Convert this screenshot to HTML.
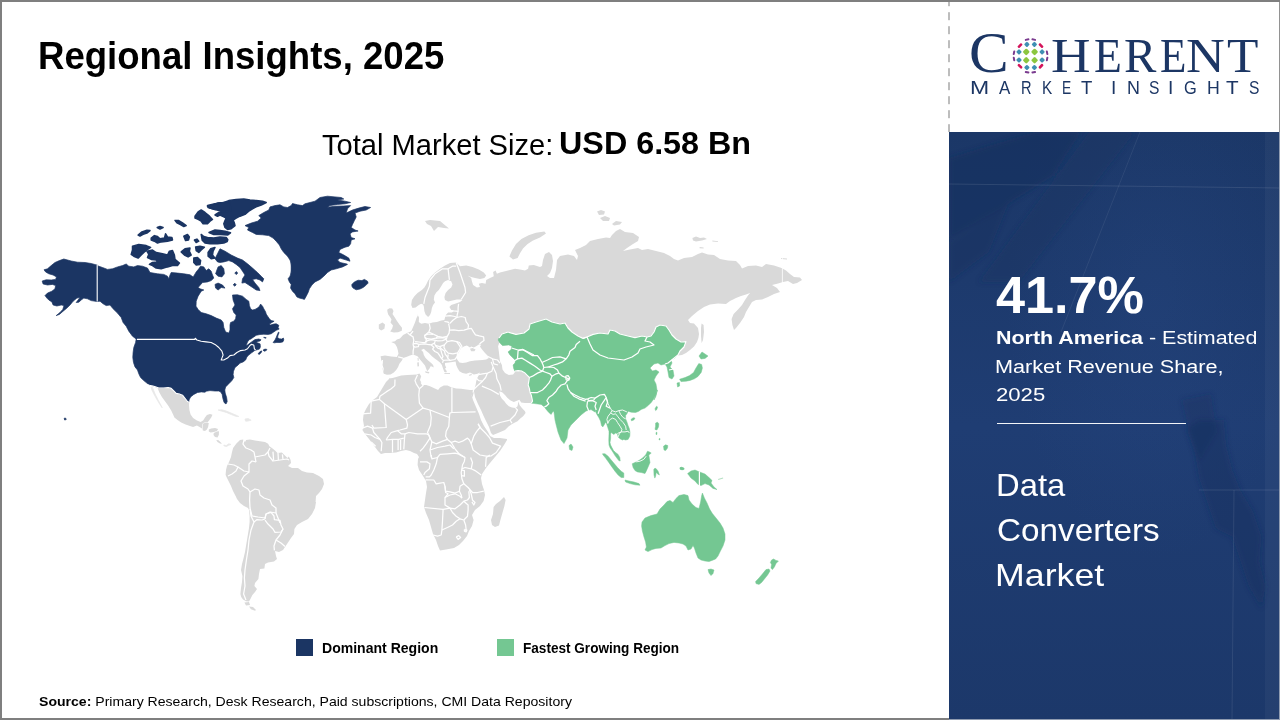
<!DOCTYPE html>
<html><head><meta charset="utf-8"><title>Regional Insights</title>
<style>
html,body{margin:0;padding:0;background:#fff;}
body{width:1280px;height:720px;position:relative;overflow:hidden;font-family:"Liberation Sans",sans-serif;}
.t{position:absolute;white-space:nowrap;line-height:1;transform-origin:0 0;}
.t b{font-weight:bold}
.serif{font-family:"Liberation Serif",serif;}
.sans{font-family:"Liberation Sans",sans-serif;}
#panel{position:absolute;left:949px;top:132px;width:331px;height:588px;background:#1d3a6e;overflow:hidden;}
#dash{position:absolute;left:948px;top:0;width:2px;height:132px;background:repeating-linear-gradient(to bottom,#bdbdbd 0,#bdbdbd 8.2px,transparent 8.2px,transparent 14.02px);background-position:0 -1.8px;}
.bd{position:absolute;background:#7f7f7f;}
.lg{position:absolute;width:17px;height:17px;top:639px;}
#hr{position:absolute;left:997px;top:422.6px;width:189px;height:1.1px;background:#fff;opacity:.95}
svg{position:absolute;left:0;top:0;}
</style></head><body>
<div id="panel"><svg width="331" height="588" viewBox="0 0 331 588" style="position:absolute;left:0;top:0">
<defs>
<radialGradient id="pg1" cx="0.62" cy="0.28" r="0.45"><stop offset="0" stop-color="#2c4e8c" stop-opacity="0.22"/><stop offset="1" stop-color="#2c4e8c" stop-opacity="0"/></radialGradient>
<linearGradient id="pg2" x1="0" y1="0" x2="0" y2="1"><stop offset="0" stop-color="#1b3767"/><stop offset="0.5" stop-color="#1f3d73"/><stop offset="1" stop-color="#1c386a"/></linearGradient>
<filter id="bl" x="-10%" y="-10%" width="120%" height="120%"><feGaussianBlur stdDeviation="2.5"/></filter>
</defs>
<rect width="331" height="588" fill="url(#pg2)"/>
<rect width="331" height="588" fill="url(#pg1)"/>
<g filter="url(#bl)">
<path d="M0,26L86,0L132,0L104,44L0,108Z" fill="#15305c" opacity="0.55"/>
<path d="M140,0L186,0L70,150L30,150Z" fill="#17325f" opacity="0.35"/>
<path d="M0,110L60,70L40,120L0,150Z" fill="#15305c" opacity="0.4"/>
<path d="M237.5,296.3L250.0,288.0L275.0,288.0L277.1,313.0L283.3,338.0L291.7,358.8L304.2,379.7L312.5,404.7L310.4,429.7L316.7,454.7L312.5,475.5L300.0,454.7L291.7,429.7L283.3,404.7L266.7,396.3L258.3,371.3L250.0,346.3L245.8,321.3Z" fill="#162f5c" opacity="0.42"/>
<path d="M233,268L262,262L268,300L250,330L240,300Z" fill="#162f5c" opacity="0.3"/>
</g>
<path d="M0,52L331,56" stroke="#fff" stroke-opacity="0.10" stroke-width="1"/>
<path d="M191,0L112,200" stroke="#fff" stroke-opacity="0.07" stroke-width="1"/>
<path d="M250,358L331,358" stroke="#fff" stroke-opacity="0.10" stroke-width="1"/>
<path d="M285,358L283,588" stroke="#fff" stroke-opacity="0.09" stroke-width="1"/>
<rect x="316" y="0" width="15" height="588" fill="#fff" opacity="0.04"/>
</svg></div>
<div id="dash"></div>
<svg width="1280" height="720" viewBox="0 0 1280 720">
<path d="M151.0,386.9L152.5,387.5L155.0,393.8L158.1,400.0L161.2,405.6L162.2,407.8L160.6,405.6L157.5,400.6L154.4,395.0L151.9,390.0Z" fill="#e8e8e8" stroke="#e8e8e8" stroke-width="0.8"/>
<path d="M156.9,385.0L190.0,385.0L189.0,405.0L189.4,410.0L190.6,414.4L193.1,418.1L196.9,420.6L200.6,421.9L203.1,420.6L205.0,417.5L206.9,415.0L210.0,414.0L212.5,414.8L211.2,417.5L209.4,420.0L207.5,422.5L205.6,422.2L203.1,422.9L202.5,424.0L201.9,428.5L200.0,427.2L196.9,425.6L193.1,426.9L190.0,426.0L185.6,424.4L181.2,422.5L177.5,420.0L174.4,417.5L173.1,414.4L171.2,410.6L168.1,405.6L165.0,401.2L161.9,396.9L159.4,392.5L157.5,388.1Z" fill="#d9d9d9"/>
<path d="M203.1,423.4L205.6,422.8L208.8,423.1L208.1,426.9L206.9,429.4L205.0,431.0L202.8,430.6L202.5,428.1Z" fill="#d9d9d9"/>
<path d="M208.8,429.4L211.2,428.5L215.0,428.1L218.1,429.0L216.9,431.0L213.8,431.9L210.6,432.5L208.8,431.5Z" fill="#d9d9d9"/>
<path d="M213.8,433.1L216.9,431.5L219.0,431.2L218.8,435.0L217.5,437.5L215.0,436.9L213.5,435.0Z" fill="#d9d9d9"/>
<path d="M216.2,440.0L218.5,440.2L220.6,442.2L221.9,443.8L220.0,443.5L217.5,441.9Z" fill="#d9d9d9"/>
<path d="M223.8,445.0L226.2,445.6L228.8,443.8L231.0,444.4L228.8,445.2L226.5,446.5L224.0,445.9Z" fill="#e8e8e8" stroke="#e8e8e8" stroke-width="0.8"/>
<path d="M218.1,410.0L221.9,409.8L226.2,411.0L231.2,413.1L236.2,415.2L238.8,416.5L236.2,416.4L231.2,414.5L226.2,412.4L221.9,411.2Z" fill="#e8e8e8" stroke="#e8e8e8" stroke-width="0.8"/>
<path d="M245.0,419.0L248.1,418.5L251.2,420.2L248.1,421.0L245.6,421.2Z" fill="#e8e8e8" stroke="#e8e8e8" stroke-width="0.8"/>
<path d="M233.1,448.1L236.2,443.8L240.0,440.0L243.1,439.4L245.0,441.9L246.2,440.0L250.0,439.4L255.0,440.6L260.0,441.2L265.0,441.9L268.1,443.8L269.4,446.2L271.9,448.1L275.0,450.6L277.5,453.1L281.9,452.5L284.4,455.0L287.5,458.1L288.8,456.5L290.6,460.0L291.0,463.0L288.0,466.0L292.0,468.0L298.0,468.0L302.0,471.0L307.0,472.4L313.0,473.0L319.0,476.0L323.0,479.0L324.0,484.0L322.0,489.0L319.0,493.0L316.0,496.0L315.6,502.0L316.0,502.0L315.0,508.0L312.0,514.0L308.0,519.0L302.0,522.0L297.0,525.0L294.4,529.0L294.0,534.0L291.0,538.0L288.0,542.4L285.0,547.0L283.0,550.0L279.0,552.0L275.0,551.0L276.0,556.0L277.0,559.0L274.0,561.6L268.0,562.4L265.0,564.0L264.4,568.4L260.0,569.0L259.0,574.0L258.4,579.0L255.0,583.0L254.4,586.0L257.0,589.0L255.0,592.0L252.4,595.0L250.4,599.0L249.0,601.6L246.0,601.2L243.0,599.6L241.2,597.0L240.4,594.0L241.0,588.0L242.0,582.0L242.4,576.0L241.0,570.0L242.0,564.0L243.6,558.0L245.0,552.0L246.0,546.0L247.0,540.0L248.0,534.0L249.0,528.0L249.6,522.0L249.6,516.0L249.0,510.0L248.0,508.0L244.0,506.0L240.0,503.0L237.0,499.0L235.6,496.0L233.0,491.0L231.0,486.0L229.0,482.0L227.0,478.0L225.6,475.0L226.0,470.0L227.0,466.0L229.0,462.0L231.0,457.0L232.0,452.0L231.2,457.5L231.9,452.5Z" fill="#d9d9d9"/>
<path d="M244.4,602.4L249.0,602.0L250.0,605.0L246.0,605.6Z" fill="#d9d9d9"/>
<path d="M249.0,606.4L253.0,607.0L256.0,610.0L255.0,610.8L251.0,609.2Z" fill="#d9d9d9"/>
<path d="M417.5,314.4L419.0,317.5L418.8,321.9L421.2,323.8L425.0,323.1L428.8,323.8L432.5,322.5L436.9,321.9L441.2,320.6L444.4,320.0L445.0,317.5L446.2,314.4L448.1,312.5L451.9,312.5L453.8,311.2L451.2,310.0L449.4,306.9L451.2,305.0L455.0,303.8L460.0,301.9L462.5,300.0L460.6,299.4L456.9,299.4L452.5,300.6L448.1,301.5L445.0,300.0L444.4,296.9L445.6,293.1L448.1,290.0L451.2,287.5L452.5,284.4L451.2,281.2L448.1,280.0L445.0,281.2L443.1,283.1L441.2,286.2L438.8,290.0L436.2,292.5L434.4,295.6L433.8,299.4L435.0,302.5L433.1,305.0L431.9,308.1L431.2,311.9L430.0,315.0L428.1,316.9L425.6,314.4L424.4,311.2L423.8,306.2L423.1,304.4L421.2,303.8L418.8,305.0L415.6,307.5L412.5,308.1L411.2,305.0L411.9,300.0L414.4,296.2L417.5,293.1L421.9,290.0L424.4,287.5L426.2,284.4L428.1,280.6L431.2,276.2L435.0,272.5L440.0,268.8L445.0,265.6L450.0,263.1L456.2,262.5L460.0,266.2L466.2,265.6L472.5,266.9L478.8,269.4L483.8,272.5L486.2,275.6L484.4,278.1L480.0,279.0L475.0,278.1L471.2,276.9L467.5,275.6L471.2,278.1L471.9,281.2L473.1,285.0L476.9,287.5L480.0,286.9L478.8,283.8L481.9,283.1L485.6,283.8L486.2,280.0L490.0,278.1L493.8,276.2L493.1,271.9L495.6,270.6L496.9,273.8L500.0,272.5L505.0,271.2L510.0,270.0L515.0,268.8L520.0,269.4L525.0,270.6L528.1,268.8L528.8,265.6L533.8,265.0L540.0,266.9L542.0,266.0L543.0,260.0L545.0,254.0L549.0,252.0L552.0,255.0L553.0,261.0L552.0,268.0L550.0,273.0L547.0,276.0L550.0,278.0L554.0,278.0L556.0,270.0L557.0,260.0L560.0,256.0L568.0,254.4L574.0,256.0L577.0,260.0L578.0,256.0L575.0,250.0L580.0,248.0L586.0,245.0L590.0,241.0L598.0,239.0L606.0,237.6L610.0,238.0L612.0,235.0L616.0,231.0L620.0,229.0L625.0,232.0L633.0,233.0L639.0,237.0L638.0,241.0L633.0,244.0L627.0,248.0L623.0,251.0L630.0,249.6L638.0,248.0L642.0,250.0L648.0,249.0L656.0,251.0L664.0,253.0L670.0,256.0L674.0,259.0L678.0,260.4L684.0,258.0L692.0,257.0L698.0,254.0L702.0,252.4L708.0,254.4L714.0,255.0L720.0,259.0L728.0,260.4L736.0,261.0L740.0,265.0L742.0,268.4L748.0,266.0L756.0,265.6L762.0,267.0L766.0,264.0L774.0,265.6L781.6,268.0L786.0,270.4L790.0,274.0L794.0,277.0L800.0,277.6L802.0,280.0L797.0,283.0L793.0,284.0L788.0,281.0L783.0,282.0L778.0,283.6L772.0,285.0L777.0,288.0L780.0,292.0L774.0,294.0L768.0,297.0L762.0,299.6L756.0,300.0L752.0,302.0L749.0,307.0L746.0,312.0L744.0,317.0L740.0,323.0L736.0,328.0L734.0,330.0L732.4,325.0L731.6,319.0L733.6,314.0L738.0,309.6L742.0,305.0L745.0,300.0L748.0,295.6L750.0,293.0L746.0,294.4L741.0,296.0L736.0,298.0L730.0,301.0L726.0,304.0L718.0,303.6L710.0,304.4L704.0,307.0L698.0,311.0L692.0,316.0L688.0,320.0L690.0,323.0L694.0,323.6L698.0,328.0L699.0,334.0L698.4,338.0L697.0,342.0L694.0,346.4L690.0,350.0L686.0,353.0L682.0,355.0L678.0,355.6L620.0,360.0L540.0,396.0L532.5,403.8L531.2,403.1L525.0,403.1L521.2,402.5L519.4,399.8L517.5,400.6L513.8,401.9L510.6,400.6L507.5,398.1L505.0,395.0L502.5,392.5L499.4,391.2L499.4,392.5L500.0,395.6L501.9,398.8L504.4,401.2L506.2,403.8L508.8,406.2L511.9,407.5L515.6,408.1L517.5,406.2L518.5,401.2L519.5,405.0L521.9,408.1L525.0,411.2L525.6,413.1L523.1,416.2L520.0,418.8L517.5,421.2L512.5,423.8L508.8,426.2L505.0,430.0L498.0,433.0L493.0,435.0L491.0,433.0L489.0,427.0L486.0,421.0L483.6,416.0L481.0,410.0L478.0,404.0L475.0,397.0L474.0,391.6L472.4,397.4L469.6,391.6L470.0,390.0L472.5,390.0L474.4,388.8L475.6,385.0L476.2,381.2L477.5,377.5L478.8,375.0L480.0,372.5L477.5,373.8L473.8,374.4L470.0,372.5L466.2,373.8L462.5,373.1L459.4,371.2L457.5,368.1L456.2,365.0L455.6,361.5L452.5,361.9L448.8,362.5L445.0,363.1L445.0,365.0L446.2,367.5L445.0,368.8L446.9,371.2L446.2,372.5L444.4,371.9L443.1,368.8L442.5,366.9L441.9,365.0L440.0,362.5L437.5,360.6L435.0,358.8L431.9,356.2L428.8,353.1L425.6,350.6L423.8,348.8L421.2,350.0L423.1,351.9L423.8,355.0L425.6,358.1L428.1,360.6L431.2,363.1L433.1,365.0L433.8,367.5L431.9,366.5L430.6,366.2L429.4,368.8L427.2,371.2L426.2,368.8L425.0,365.6L422.5,362.5L420.0,359.4L417.5,356.2L415.0,355.2L413.1,354.4L410.0,355.6L406.2,356.9L403.1,358.1L401.9,360.6L399.4,363.8L398.1,366.9L396.2,370.0L393.8,372.5L390.6,374.4L386.9,374.8L383.8,373.8L382.5,370.0L381.9,366.2L382.5,362.5L381.2,360.0L380.6,356.2L385.0,355.6L391.2,356.5L396.9,356.9L398.5,353.8L397.8,350.0L396.9,346.9L395.0,343.8L391.2,341.9L395.0,341.2L396.9,339.4L400.0,338.5L403.1,335.0L407.5,332.8L411.2,331.2L413.1,326.9L415.0,322.5L416.5,318.1L418.1,315.0Z" fill="#d9d9d9"/>
<path d="M397.0,375.0L390.0,378.0L386.0,382.0L383.0,387.0L380.0,392.0L377.0,397.0L373.0,400.0L369.0,404.0L366.0,409.0L363.6,414.0L363.0,420.0L364.0,426.0L362.4,430.0L365.0,434.0L369.0,439.0L372.0,443.0L375.0,447.0L378.0,451.0L381.0,454.0L385.0,453.0L390.0,453.0L396.0,452.4L401.0,451.0L406.0,450.0L410.0,451.0L414.0,453.0L417.0,454.0L419.0,457.0L418.0,459.0L417.6,465.0L419.0,470.0L423.0,476.0L426.0,481.0L427.0,487.0L426.0,493.0L425.0,500.0L424.0,507.0L426.0,513.0L429.0,520.0L431.0,527.0L433.0,534.0L436.0,540.0L438.0,546.0L440.0,550.4L446.0,549.6L454.0,548.0L459.0,545.0L463.0,541.0L467.0,536.0L469.0,531.0L472.0,526.0L473.6,520.0L472.0,515.0L475.0,510.0L480.0,506.0L483.6,501.0L485.0,495.0L484.0,490.0L482.0,484.0L481.0,478.0L482.0,474.0L486.0,468.0L490.0,463.0L495.0,457.0L500.0,451.0L504.0,445.0L507.0,440.0L507.0,439.0L500.0,438.0L494.0,438.0L490.0,436.0L488.0,432.0L484.0,426.0L481.0,420.0L479.0,414.0L476.0,407.0L473.0,400.0L471.0,393.0L470.0,390.0L470.0,390.0L466.2,389.4L461.2,388.8L456.2,388.5L451.2,387.2L447.5,385.6L443.8,385.6L440.0,387.5L438.1,390.0L433.8,388.1L430.0,386.2L426.2,385.0L422.5,385.0L421.9,383.8L420.0,380.0L421.2,376.2L419.4,373.5L416.9,374.4L412.5,374.8L407.5,375.0L401.2,375.6L396.2,376.9L392.5,378.1L388.8,378.5Z" fill="#d9d9d9"/>
<path d="M504.0,497.0L505.6,500.0L504.4,506.0L502.4,513.0L500.4,520.0L499.0,525.6L495.0,527.0L492.0,525.0L491.0,520.0L493.0,514.0L493.6,507.0L496.0,504.0L500.0,501.0Z" fill="#d9d9d9"/>
<path d="M457.5,360.0L456.2,357.5L457.5,354.4L459.4,351.2L461.2,348.1L464.4,346.2L466.9,345.6L470.0,347.5L471.2,346.5L473.8,347.5L476.2,346.2L478.8,344.4L481.2,344.8L480.0,346.5L480.6,347.5L482.5,350.0L485.0,353.1L487.5,355.6L488.8,358.1L486.2,359.4L482.5,360.0L478.8,360.2L475.0,360.6L470.0,361.2L466.2,362.5L462.5,363.1L459.4,362.5Z" fill="#ffffff"/>
<path d="M470.0,348.8L472.5,348.1L475.6,349.4L474.4,351.2L471.2,351.2Z" fill="#d9d9d9"/>
<path d="M499.4,342.5L502.5,345.6L508.8,345.0L511.9,346.2L511.2,349.4L508.1,351.9L510.0,355.0L513.1,358.1L515.6,360.6L515.0,363.1L513.1,365.0L513.8,368.8L515.0,371.9L513.1,374.4L508.8,375.0L505.0,373.1L502.5,369.4L501.9,365.0L500.0,361.2L499.4,356.2L498.8,351.2L498.1,346.2Z" fill="#ffffff"/>
<path d="M387.2,309.8L389.4,308.2L392.2,308.5L393.5,311.0L392.5,314.0L394.5,317.0L396.8,320.8L399.4,324.5L402.0,327.8L401.8,330.8L398.1,332.2L393.8,332.5L390.2,331.5L392.2,328.5L393.0,325.5L390.5,322.5L391.5,319.5L390.0,317.0L388.2,314.5L387.5,312.0Z" fill="#d9d9d9"/>
<path d="M378.8,324.4L382.5,322.5L385.0,324.4L384.4,328.8L381.2,330.6L378.8,328.8Z" fill="#d9d9d9"/>
<path d="M425.0,371.2L429.4,371.9L428.8,373.5L425.6,372.8Z" fill="#d9d9d9"/>
<path d="M417.2,362.5L418.8,362.2L419.0,366.2L417.5,366.5Z" fill="#d9d9d9"/>
<path d="M417.5,358.1L418.5,357.9L418.8,360.6L417.8,360.9Z" fill="#d9d9d9"/>
<path d="M444.4,373.1L450.0,373.1L450.0,374.0L444.4,374.0Z" fill="#d9d9d9"/>
<path d="M468.8,375.0L471.9,373.8L471.5,375.2L469.4,375.8Z" fill="#d9d9d9"/>
<path d="M509.4,256.4L512.0,250.4L516.0,244.0L521.4,239.0L528.6,235.2L536.0,232.8L544.4,231.6L546.0,233.6L540.0,237.6L533.0,240.4L527.6,244.0L523.0,248.4L520.0,253.2L517.6,258.0L513.0,259.6Z" fill="#d9d9d9"/>
<path d="M425.0,221.0L430.0,220.0L440.0,221.0L446.0,226.0L449.0,228.4L444.0,228.0L438.0,227.0L434.0,231.0L431.0,226.0L427.0,224.0Z" fill="#d9d9d9"/>
<path d="M597.0,211.6L601.0,210.0L605.0,211.6L604.0,214.4L599.0,215.0Z" fill="#d9d9d9"/>
<path d="M600.0,218.0L605.0,216.0L610.0,218.0L609.0,221.0L603.0,221.0Z" fill="#d9d9d9"/>
<path d="M612.0,224.0L616.0,221.0L622.0,222.0L620.0,224.4L614.0,225.6Z" fill="#d9d9d9"/>
<path d="M692.4,238.0L696.0,236.4L700.0,238.0L704.0,237.6L707.0,239.0L702.0,240.4L696.0,241.6L693.0,240.4Z" fill="#d9d9d9"/>
<path d="M712.4,240.4L718.0,241.2L718.0,242.0L712.4,241.4Z" fill="#d9d9d9"/>
<path d="M699.6,247.0L703.6,247.6L703.6,248.6L699.6,248.2Z" fill="#d9d9d9"/>
<path d="M781.0,258.0L787.0,258.6L787.0,259.4L781.0,259.0Z" fill="#d9d9d9"/>
<path d="M701.6,323.6L703.6,325.0L704.0,332.0L703.0,340.0L701.6,343.0L701.0,336.0L701.0,328.0Z" fill="#d9d9d9"/>
<path d="M499.0,338.0L502.0,334.0L508.0,332.0L516.0,334.4L524.0,333.0L529.0,329.0L530.0,324.0L536.0,322.0L546.0,319.0L552.0,322.0L560.0,324.0L565.0,323.0L568.0,328.0L572.0,332.0L578.0,336.0L583.0,338.4L587.0,337.0L593.0,334.4L600.0,333.0L608.0,334.0L610.0,330.0L615.0,331.0L620.0,334.0L628.0,336.0L635.0,337.6L642.0,336.0L647.0,337.0L651.0,336.0L654.0,332.0L656.0,327.0L660.0,325.0L666.0,326.0L669.0,330.0L672.0,335.0L676.0,339.0L681.0,342.0L686.0,341.6L684.0,347.0L680.0,351.0L678.0,355.0L675.0,358.0L671.0,360.0L672.0,363.0L670.0,367.0L673.0,370.0L674.0,376.0L672.0,379.0L669.0,377.6L668.0,372.0L667.0,367.0L665.0,364.0L661.0,365.0L658.0,363.0L654.0,364.0L650.0,368.0L652.4,371.0L656.0,370.0L659.0,372.0L656.0,376.0L654.0,380.0L656.0,384.0L657.0,390.0L656.0,396.0L654.0,400.0L657.5,390.0L656.2,393.8L653.8,398.8L651.2,402.5L648.1,405.6L645.0,408.1L641.2,409.4L638.8,411.2L635.6,412.5L631.2,412.2L628.1,411.2L626.9,413.8L625.6,415.6L625.6,418.8L626.9,421.9L628.1,425.6L629.4,428.8L630.0,432.5L629.8,436.2L628.1,439.4L625.6,440.0L623.8,439.4L622.5,440.0L620.0,438.8L618.1,436.9L617.5,433.8L615.6,433.1L613.8,434.4L611.2,432.5L610.6,434.0L610.6,438.8L610.0,442.5L610.6,445.0L611.9,447.5L613.5,450.6L615.6,452.5L618.1,454.4L619.8,457.5L620.2,461.0L618.8,460.6L616.9,458.1L615.0,455.6L613.5,453.1L611.9,450.6L610.2,448.1L609.0,445.0L608.8,440.0L609.0,433.8L609.0,431.2L607.8,427.5L606.5,423.5L605.6,422.2L604.4,424.4L602.8,426.9L601.5,425.6L600.6,421.2L598.8,417.5L596.9,414.4L595.0,410.6L595.0,412.0L591.0,409.6L586.0,411.0L581.0,415.0L576.0,420.0L571.0,425.0L568.0,430.0L567.0,438.0L564.0,443.6L561.0,440.0L558.0,432.0L556.2,425.0L555.0,420.0L554.4,415.0L553.8,411.2L552.5,411.9L551.2,414.4L548.8,412.5L546.2,409.4L544.4,406.9L541.2,404.4L536.2,403.8L531.2,403.1L532.5,401.2L531.9,398.1L531.2,395.0L530.0,392.5L529.4,388.8L528.1,385.0L528.8,381.2L529.4,377.5L527.5,375.6L525.0,373.1L521.9,371.2L518.1,370.6L515.0,371.2L513.8,368.8L513.1,365.0L515.0,363.1L515.6,360.6L513.1,358.1L510.0,355.0L508.1,351.9L511.2,349.4L511.9,346.2L508.8,345.0L502.5,345.6L500.0,343.1L498.1,340.0Z" fill="#74c792" stroke="#74c792" stroke-width="0.5" stroke-linejoin="round"/>
<path d="M569.0,445.6L571.0,444.0L573.0,447.0L572.0,450.4L569.6,449.6Z" fill="#74c792" stroke="#74c792" stroke-width="0.5" stroke-linejoin="round"/>
<path d="M699.0,356.0L702.0,352.0L705.0,354.0L708.0,356.0L705.0,358.4L701.0,359.0Z" fill="#74c792" stroke="#74c792" stroke-width="0.5" stroke-linejoin="round"/>
<path d="M698.8,363.6L701.6,364.4L702.4,368.0L701.2,372.4L698.0,376.4L694.4,378.8L690.0,380.4L686.0,381.2L681.0,381.6L679.6,379.2L685.0,377.6L689.6,375.6L693.6,372.4L696.0,368.0Z" fill="#74c792" stroke="#74c792" stroke-width="0.5" stroke-linejoin="round"/>
<path d="M677.0,383.0L679.4,382.4L679.6,386.0L677.6,387.0Z" fill="#74c792" stroke="#74c792" stroke-width="0.5" stroke-linejoin="round"/>
<path d="M631.0,419.4L633.1,417.8L635.0,418.1L633.8,420.0L631.5,420.8Z" fill="#74c792" stroke="#74c792" stroke-width="0.5" stroke-linejoin="round"/>
<path d="M655.0,408.8L656.5,406.2L657.5,406.9L656.9,409.4L655.6,410.6Z" fill="#74c792" stroke="#74c792" stroke-width="0.5" stroke-linejoin="round"/>
<path d="M655.6,423.1L657.5,422.2L658.8,423.8L658.5,426.9L656.9,430.0L655.0,429.4L655.6,426.2Z" fill="#74c792" stroke="#74c792" stroke-width="0.5" stroke-linejoin="round"/>
<path d="M656.0,432.5L656.9,432.2L656.9,434.4L656.0,434.4Z" fill="#74c792" stroke="#74c792" stroke-width="0.5" stroke-linejoin="round"/>
<path d="M659.0,438.8L660.0,438.5L660.0,439.8L659.0,439.8Z" fill="#74c792" stroke="#74c792" stroke-width="0.5" stroke-linejoin="round"/>
<path d="M663.5,446.2L665.6,444.8L667.8,445.6L667.5,448.1L665.6,450.6L664.0,450.0Z" fill="#74c792" stroke="#74c792" stroke-width="0.5" stroke-linejoin="round"/>
<path d="M602.5,453.8L605.0,453.8L608.1,456.2L611.2,460.0L614.4,463.8L617.5,467.5L621.2,471.2L623.8,473.1L623.8,477.5L621.2,477.5L618.1,475.0L615.0,471.2L611.9,466.9L608.8,462.5L605.6,458.1L603.1,455.0Z" fill="#74c792" stroke="#74c792" stroke-width="0.5" stroke-linejoin="round"/>
<path d="M632.2,463.8L635.0,462.5L638.8,460.6L642.5,458.1L645.6,455.0L647.5,451.2L649.4,451.9L651.2,453.1L648.8,455.0L649.4,458.8L650.0,462.5L648.1,466.9L646.2,471.2L645.0,473.5L641.2,472.5L637.5,471.9L635.0,470.6L633.1,467.5Z" fill="#74c792" stroke="#74c792" stroke-width="0.5" stroke-linejoin="round"/>
<path d="M653.8,469.4L655.0,468.1L656.9,469.4L658.1,471.2L659.4,475.0L657.5,473.8L656.2,472.5L655.6,476.2L654.8,478.1L654.0,475.0Z" fill="#74c792" stroke="#74c792" stroke-width="0.5" stroke-linejoin="round"/>
<path d="M680.0,467.8L681.9,467.1L684.0,468.5L682.5,470.0L680.6,469.4Z" fill="#74c792" stroke="#74c792" stroke-width="0.5" stroke-linejoin="round"/>
<path d="M625.0,480.0L629.0,481.0L634.0,482.0L639.0,483.6L640.0,485.2L635.0,484.8L630.0,483.6L625.6,482.0Z" fill="#74c792" stroke="#74c792" stroke-width="0.5" stroke-linejoin="round"/>
<path d="M687.6,473.6L691.0,471.0L695.0,470.0L699.6,472.0L705.0,474.0L709.0,477.6L712.0,480.4L711.0,483.0L714.0,487.0L717.0,489.6L713.0,488.4L709.0,485.0L705.0,483.6L701.0,485.6L698.0,484.4L695.0,481.0L691.0,478.0Z" fill="#74c792" stroke="#74c792" stroke-width="0.5" stroke-linejoin="round"/>
<path d="M680.0,467.6L684.0,468.0L684.0,469.6L680.0,469.2Z" fill="#74c792" stroke="#74c792" stroke-width="0.5" stroke-linejoin="round"/>
<path d="M718.0,479.0L723.0,477.6L723.2,478.6L718.4,480.0Z" fill="#b5e0c4"/>
<path d="M642.0,522.0L645.0,518.0L651.0,515.6L657.0,514.0L660.0,509.0L664.0,505.0L667.0,501.6L670.0,500.4L673.0,502.4L676.0,498.4L679.0,495.6L684.0,494.4L688.0,495.6L689.0,500.0L692.0,504.0L696.0,507.6L699.0,508.4L700.6,502.0L701.6,496.0L702.4,493.0L704.4,498.0L707.0,503.0L709.6,509.0L712.4,513.6L716.0,518.0L720.0,523.0L723.0,528.0L725.0,534.0L725.0,540.0L723.0,546.0L720.4,551.0L718.0,556.0L715.6,559.0L712.0,560.4L709.0,561.6L705.0,561.0L701.0,560.0L698.0,558.0L696.0,553.0L694.4,548.0L693.0,545.6L691.0,549.0L688.0,550.0L686.0,546.0L683.0,544.0L679.0,543.0L674.0,542.4L669.0,543.6L665.0,545.6L661.0,548.0L656.0,548.4L652.0,549.6L648.0,551.6L645.0,550.0L646.4,547.0L645.6,542.0L644.0,537.0L642.4,531.0L641.6,526.0Z" fill="#74c792" stroke="#74c792" stroke-width="0.5" stroke-linejoin="round"/>
<path d="M708.0,569.6L711.0,569.0L714.0,570.0L713.0,573.6L711.0,575.6L709.0,573.0Z" fill="#74c792" stroke="#74c792" stroke-width="0.5" stroke-linejoin="round"/>
<path d="M771.6,560.0L773.6,559.0L776.0,560.4L778.4,561.0L776.0,563.6L774.4,567.0L772.4,569.6L771.0,568.0L771.6,564.4L770.4,562.4Z" fill="#74c792" stroke="#74c792" stroke-width="0.5" stroke-linejoin="round"/>
<path d="M766.0,569.6L769.0,569.0L770.0,571.0L767.6,575.0L764.4,579.0L761.6,582.4L759.0,584.4L756.0,583.6L755.6,581.6L759.0,578.0L762.4,574.0Z" fill="#74c792" stroke="#74c792" stroke-width="0.5" stroke-linejoin="round"/>
<path d="M97.5,265.2L91.2,263.5L85.0,262.5L77.5,262.2L71.2,261.0L63.8,259.0L59.4,260.6L55.0,262.5L51.2,265.6L47.5,268.8L44.0,269.8L45.6,271.9L48.8,273.8L53.1,275.0L56.5,276.9L55.6,279.4L51.2,280.0L46.2,279.8L42.2,281.0L43.1,284.0L47.5,285.0L52.5,284.4L55.6,285.6L55.0,288.8L51.9,291.2L47.5,293.1L45.0,295.6L46.9,298.1L48.8,300.0L51.9,301.9L53.1,305.0L56.9,306.0L61.2,305.0L64.0,305.6L62.8,309.4L60.0,312.5L56.2,315.6L59.4,314.4L63.1,311.2L66.9,308.1L70.0,305.0L73.1,301.2L76.9,298.1L80.0,297.5L78.1,300.0L76.2,302.5L78.8,302.2L81.2,300.0L83.8,298.1L87.5,298.8L91.2,300.6L96.9,301.5L100.0,301.2L103.1,303.8L106.2,305.6L110.0,305.0L113.1,308.8L117.5,313.1L121.2,317.5L123.1,322.5L126.2,326.2L128.8,331.2L132.5,336.2L136.2,339.0L135.6,342.5L133.8,347.5L133.1,352.5L132.8,357.5L133.5,362.5L135.0,366.9L137.5,370.0L138.8,373.8L140.6,377.5L143.8,380.6L146.9,383.1L149.4,385.0L153.8,386.0L158.8,387.8L163.8,387.8L168.1,387.2L171.2,388.1L173.8,390.6L176.2,393.1L179.4,393.8L182.5,395.0L185.0,398.1L187.5,401.2L188.8,401.9L189.0,400.0L190.6,396.9L193.8,394.4L197.5,392.5L201.2,391.9L205.0,392.2L206.2,391.2L210.0,390.6L215.0,391.0L218.8,391.0L220.8,392.0L222.2,394.5L222.9,398.5L224.1,402.5L226.0,404.0L227.2,401.5L226.6,397.5L225.2,393.1L224.8,390.0L225.6,386.9L228.8,383.8L231.9,380.6L233.8,377.5L233.1,374.4L233.5,371.2L235.0,367.5L238.1,365.0L240.0,363.1L243.1,361.9L245.6,360.0L246.9,356.9L248.8,355.0L251.2,353.1L253.8,351.2L253.8,350.8L256.9,349.8L259.4,349.1L260.4,346.9L260.1,343.9L258.2,343.1L256.4,342.4L257.6,341.4L260.0,341.0L261.0,339.8L258.8,339.0L255.0,339.6L251.6,341.9L248.8,344.1L246.8,345.5L246.4,344.7L247.5,342.0L248.8,340.0L251.2,338.8L253.8,336.9L256.2,335.3L260.0,334.5L263.8,334.2L268.1,334.4L271.2,333.8L273.8,331.9L276.2,330.3L279.1,329.1L278.1,327.5L278.8,325.3L276.2,323.8L273.8,324.1L270.6,325.0L269.4,324.1L271.9,322.5L274.1,321.2L271.2,320.6L269.4,318.8L268.1,316.9L266.2,314.1L265.6,311.9L263.8,308.8L262.5,306.2L260.6,304.1L259.4,306.2L257.5,308.1L255.0,309.4L252.5,310.0L250.6,308.8L249.4,305.6L248.8,301.2L246.2,299.4L242.5,296.2L237.5,294.8L232.5,295.0L233.1,300.0L235.0,305.0L232.5,308.8L233.8,312.5L236.2,315.0L235.6,318.8L233.8,321.2L230.6,322.5L230.0,325.0L230.0,330.0L228.8,333.1L225.6,331.9L223.8,327.5L223.1,322.5L221.2,320.0L216.2,318.1L211.2,315.6L206.2,313.8L201.2,312.5L198.1,309.4L196.0,306.2L196.2,301.2L198.1,296.2L201.2,291.2L201.2,291.2L203.8,290.0L200.0,288.8L198.1,287.5L202.5,282.5L207.5,281.9L211.2,280.6L213.8,278.1L212.5,275.0L211.2,271.2L208.8,268.8L206.2,270.6L203.8,266.9L200.6,266.2L198.8,268.8L196.2,271.9L194.4,275.0L193.1,276.9L190.0,274.8L183.8,273.8L177.5,273.1L171.2,272.5L170.0,275.0L168.8,278.8L167.5,276.2L163.8,274.4L157.5,273.8L150.0,272.5L147.5,268.1L142.5,266.2L137.5,265.6L133.8,266.9L128.8,266.2L126.2,264.0L122.5,265.6L117.5,266.9L112.5,268.8L107.5,269.4L102.5,267.5L98.1,266.0Z" fill="#1b3563" stroke="#1b3563" stroke-width="0.7" stroke-linejoin="round"/>
<path d="M132.5,246.2L138.8,244.4L146.2,245.6L150.6,247.5L146.9,250.0L143.8,252.5L141.2,255.0L138.1,258.1L133.8,256.2L131.2,254.4L132.5,250.0Z" fill="#1b3563" stroke="#1b3563" stroke-width="1.5" stroke-linejoin="round"/>
<path d="M146.9,251.2L152.5,250.0L156.2,252.5L162.5,253.8L167.5,255.0L169.4,251.2L172.5,250.6L174.4,255.0L175.0,259.4L179.4,263.1L177.5,265.6L172.5,265.6L167.5,266.9L161.2,268.8L156.2,268.1L152.5,265.6L149.4,264.4L152.5,262.5L157.5,261.9L156.2,260.0L151.2,259.4L147.5,257.5L148.8,254.4Z" fill="#1b3563" stroke="#1b3563" stroke-width="1.5" stroke-linejoin="round"/>
<path d="M151.2,238.1L154.4,235.6L157.5,236.5L160.0,238.8L164.4,238.1L165.6,233.8L167.5,236.9L171.9,237.5L172.5,240.0L167.5,241.2L161.2,241.9L157.5,243.1L154.4,241.2L151.2,240.0Z" fill="#1b3563" stroke="#1b3563" stroke-width="1.5" stroke-linejoin="round"/>
<path d="M138.1,235.0L141.9,231.9L146.9,230.2L150.0,230.6L146.9,233.1L143.1,234.4L140.0,236.0Z" fill="#1b3563" stroke="#1b3563" stroke-width="1.5" stroke-linejoin="round"/>
<path d="M157.2,227.5L160.0,226.5L163.1,227.5L160.0,229.0Z" fill="#1b3563" stroke="#1b3563" stroke-width="1.5" stroke-linejoin="round"/>
<path d="M175.0,220.4L178.8,220.6L182.5,222.8L186.2,225.6L183.8,226.5L180.0,224.4L176.9,222.8Z" fill="#1b3563" stroke="#1b3563" stroke-width="1.5" stroke-linejoin="round"/>
<path d="M195.0,216.2L198.1,211.9L201.2,210.0L205.0,212.5L208.8,215.6L212.5,219.4L210.0,221.2L207.5,223.8L203.1,223.8L201.2,221.2L198.1,219.4L195.0,218.1Z" fill="#1b3563" stroke="#1b3563" stroke-width="1.5" stroke-linejoin="round"/>
<path d="M207.5,206.2L212.5,205.0L217.5,203.1L223.8,202.5L228.8,200.6L236.2,199.4L243.8,199.0L250.0,200.0L256.2,200.6L262.5,201.2L266.2,202.5L261.2,205.0L256.2,206.9L252.5,208.8L248.8,211.2L245.0,214.4L240.0,216.2L236.2,218.1L233.1,220.0L234.4,223.1L235.0,225.6L231.2,228.8L227.5,229.4L225.0,227.5L223.8,223.8L225.0,220.6L226.2,218.1L223.8,216.9L220.0,215.0L217.5,216.2L215.0,215.0L218.8,212.5L223.8,210.6L228.8,210.0L230.0,207.5L225.0,207.5L220.0,208.8L215.0,209.4L210.0,208.1Z" fill="#1b3563" stroke="#1b3563" stroke-width="1.5" stroke-linejoin="round"/>
<path d="M207.5,205.6L215.0,203.8L223.8,202.5L230.0,203.1L230.6,210.6L225.0,211.9L218.8,210.6L212.5,208.8L208.1,207.5Z" fill="#1b3563" stroke="#1b3563" stroke-width="1.5" stroke-linejoin="round"/>
<path d="M201.2,234.4L203.8,236.5L207.5,237.5L213.8,238.0L220.0,237.0L226.2,237.5L227.8,239.8L227.2,241.5L223.8,243.0L217.5,243.8L210.0,243.8L205.0,243.0L202.2,240.2Z" fill="#1b3563" stroke="#1b3563" stroke-width="1.5" stroke-linejoin="round"/>
<path d="M183.8,236.2L187.5,234.4L189.4,236.9L188.5,240.0L185.6,240.6Z" fill="#1b3563" stroke="#1b3563" stroke-width="1.5" stroke-linejoin="round"/>
<path d="M194.4,240.0L196.9,239.1L198.8,241.2L196.2,242.5Z" fill="#1b3563" stroke="#1b3563" stroke-width="1.5" stroke-linejoin="round"/>
<path d="M209.0,232.5L215.0,230.0L220.0,230.5L225.0,231.2L230.5,232.8L227.8,235.0L220.0,234.5L213.8,234.5Z" fill="#1b3563" stroke="#1b3563" stroke-width="1.5" stroke-linejoin="round"/>
<path d="M181.2,251.9L185.0,248.8L190.0,248.1L189.4,251.2L191.2,255.0L188.1,256.9L184.4,255.0Z" fill="#1b3563" stroke="#1b3563" stroke-width="1.5" stroke-linejoin="round"/>
<path d="M195.6,246.9L200.0,246.2L204.4,247.2L201.2,250.0L198.8,252.5L196.2,250.6Z" fill="#1b3563" stroke="#1b3563" stroke-width="1.5" stroke-linejoin="round"/>
<path d="M193.8,258.1L197.5,257.5L200.6,260.6L200.0,264.4L196.2,265.0L193.8,262.5Z" fill="#1b3563" stroke="#1b3563" stroke-width="1.5" stroke-linejoin="round"/>
<path d="M208.1,252.5L210.6,248.8L215.0,247.5L213.1,251.2L212.5,255.0L215.0,258.1L211.2,258.8L208.1,256.2Z" fill="#1b3563" stroke="#1b3563" stroke-width="1.5" stroke-linejoin="round"/>
<path d="M220.0,248.8L225.0,251.2L231.2,255.0L237.5,258.1L242.5,260.0L247.5,263.8L252.5,268.1L257.5,272.5L261.2,276.2L263.8,278.8L262.5,281.9L260.0,280.0L256.2,278.8L252.5,279.4L255.0,283.1L258.8,287.5L260.0,290.6L256.2,290.0L252.5,287.5L248.8,285.0L245.0,282.5L241.9,283.1L242.5,278.8L245.0,275.0L242.5,271.2L240.0,267.5L236.2,264.4L232.5,261.9L228.8,260.6L223.8,261.9L220.0,262.5L217.5,261.9L215.0,258.8L217.5,253.8L219.4,250.0Z" fill="#1b3563" stroke="#1b3563" stroke-width="0.7" stroke-linejoin="round"/>
<path d="M215.0,284.4L218.1,283.1L222.5,285.0L225.0,288.1L221.2,287.5L218.1,290.0L215.6,288.1Z" fill="#1b3563" stroke="#1b3563" stroke-width="0.7" stroke-linejoin="round"/>
<path d="M218.1,266.9L221.2,265.6L223.8,268.8L224.4,273.8L221.9,276.9L218.1,276.2L215.6,273.8L216.9,270.0Z" fill="#1b3563" stroke="#1b3563" stroke-width="0.7" stroke-linejoin="round"/>
<path d="M234.8,273.1L236.2,271.6L237.8,273.1L236.2,274.6Z" fill="#1b3563" stroke="#1b3563" stroke-width="0.7" stroke-linejoin="round"/>
<path d="M233.2,284.8L234.8,283.2L236.2,284.8L234.8,286.2Z" fill="#1b3563" stroke="#1b3563" stroke-width="0.7" stroke-linejoin="round"/>
<path d="M273.1,342.5L275.0,340.0L276.2,337.5L277.2,335.0L278.4,332.2L279.1,332.5L278.1,335.0L277.5,337.5L279.4,338.8L281.6,339.1L283.4,338.1L283.8,340.0L282.8,341.9L280.0,342.5L276.9,342.4L274.4,342.8Z" fill="#1b3563" stroke="#1b3563" stroke-width="0.7" stroke-linejoin="round"/>
<path d="M263.8,337.2L266.2,337.8L265.9,338.2L263.8,337.6Z" fill="#1b3563" stroke="#1b3563" stroke-width="0.7" stroke-linejoin="round"/>
<path d="M245.0,225.6L251.2,223.1L257.5,221.2L261.2,218.1L258.8,215.6L263.8,212.5L268.8,210.0L270.0,206.9L275.0,205.6L280.0,204.8L283.8,206.9L287.5,207.5L291.2,205.6L292.5,203.5L297.5,204.8L302.5,205.6L305.0,203.8L310.0,202.5L315.0,201.2L320.0,197.5L327.5,196.2L335.0,196.9L341.2,197.5L343.8,199.0L337.5,200.0L345.0,201.2L350.6,202.5L345.0,203.8L337.5,204.4L330.0,205.6L327.5,207.2L335.0,206.2L343.8,206.0L350.6,205.6L347.5,208.8L346.2,213.1L352.5,210.0L358.8,208.1L365.0,206.5L370.6,207.5L366.2,210.0L360.0,211.2L355.0,213.1L356.2,216.9L354.4,220.6L352.5,224.4L351.2,227.5L355.0,230.0L358.1,231.0L352.5,231.9L350.0,233.8L351.2,237.5L355.0,238.8L351.2,240.0L350.6,243.8L348.8,246.2L345.0,247.2L340.0,249.4L338.8,252.5L343.8,255.0L348.8,258.1L350.0,261.2L346.2,260.0L340.0,258.1L337.5,260.0L340.0,262.5L346.9,264.0L347.5,264.4L342.5,266.9L336.2,268.8L331.2,270.0L327.5,272.5L323.8,276.2L320.0,279.4L315.0,281.9L311.9,285.0L309.4,288.8L308.1,292.5L306.2,296.2L304.4,299.4L302.5,298.8L299.4,298.1L296.9,296.9L295.0,293.8L292.5,291.2L290.6,288.1L291.2,284.4L289.4,281.9L288.1,278.8L290.0,276.2L291.2,272.5L291.9,267.5L291.2,262.5L291.2,273.8L291.9,268.8L291.2,263.8L290.0,260.0L287.5,256.2L283.8,252.5L281.2,248.8L279.4,245.0L276.2,241.2L273.1,238.1L268.8,235.6L262.5,234.8L256.2,234.4L252.5,232.5L247.5,230.0L248.8,227.5Z" fill="#1b3563" stroke="#1b3563" stroke-width="0.7" stroke-linejoin="round"/>
<path d="M351.9,284.4L354.4,281.9L358.1,280.2L361.9,280.6L364.4,279.4L367.5,281.2L368.1,283.1L365.6,285.6L363.1,287.5L360.0,289.0L356.2,289.8L353.1,288.1L351.9,286.2Z" fill="#1b3563" stroke="#1b3563" stroke-width="0.7" stroke-linejoin="round"/>
<path d="M258.1,353.8L260.0,351.6L261.9,350.9L261.2,352.5L259.4,354.4Z" fill="#1b3563" stroke="#1b3563" stroke-width="0.7" stroke-linejoin="round"/>
<path d="M263.1,350.0L265.0,349.1L266.9,349.4L266.2,350.6L264.1,351.2Z" fill="#1b3563" stroke="#1b3563" stroke-width="0.7" stroke-linejoin="round"/>
<path d="M64.2,418.2L65.8,418.2L66.2,419.6L64.6,420.0Z" fill="#1b3563" stroke="#1b3563" stroke-width="0.7" stroke-linejoin="round"/>
<path d="M97.2,265.0L97.2,301.5" fill="none" stroke="#fff" stroke-width="1.1" stroke-linejoin="round"/>
<path d="M136.9,339.4L195.0,339.4L195.2,338.2L196.9,340.0L201.2,341.2L206.2,341.9L211.2,342.5L215.0,344.4L218.8,347.5L221.9,351.2L223.1,355.0L221.9,358.1L221.2,360.0L223.8,360.0L227.5,358.1L230.0,355.6L233.8,355.0L236.9,352.5L240.6,350.6L245.0,350.0L247.5,348.8L249.4,346.2L251.2,344.4L253.8,345.0L254.4,348.8L255.6,350.0" fill="none" stroke="#fff" stroke-width="1.1" stroke-linejoin="round"/>
<path d="M244.0,440.0L243.0,444.0L246.0,448.0L251.0,450.0L254.0,452.0L255.0,457.0L256.0,462.0" fill="none" stroke="#fff" stroke-width="1.25" stroke-linejoin="round"/>
<path d="M255.0,457.0L260.0,456.0L265.0,455.0L268.0,452.0L270.0,448.0" fill="none" stroke="#fff" stroke-width="1.25" stroke-linejoin="round"/>
<path d="M268.0,452.0L269.0,456.0L273.0,461.0L280.0,460.0L287.0,459.0L289.0,460.0" fill="none" stroke="#fff" stroke-width="1.25" stroke-linejoin="round"/>
<path d="M273.0,451.6L273.6,460.4" fill="none" stroke="#fff" stroke-width="1.25" stroke-linejoin="round"/>
<path d="M278.0,452.8L278.4,460.0" fill="none" stroke="#fff" stroke-width="1.25" stroke-linejoin="round"/>
<path d="M282.4,454.4L283.0,459.4" fill="none" stroke="#fff" stroke-width="1.25" stroke-linejoin="round"/>
<path d="M228.0,464.0L234.0,465.0L238.0,467.0L236.0,471.0L232.0,474.0L228.0,476.0" fill="none" stroke="#fff" stroke-width="1.25" stroke-linejoin="round"/>
<path d="M238.0,467.0L244.0,471.0L249.0,472.0L249.0,464.0L252.0,461.0L256.0,462.0" fill="none" stroke="#fff" stroke-width="1.25" stroke-linejoin="round"/>
<path d="M249.0,472.0L244.0,476.0L241.0,481.0L243.0,486.0L248.0,489.0L250.0,492.0" fill="none" stroke="#fff" stroke-width="1.25" stroke-linejoin="round"/>
<path d="M250.0,492.0L255.0,489.0L259.0,490.0L260.0,495.0L264.0,498.0L270.0,500.0L272.0,505.0L276.0,508.0L276.0,513.0" fill="none" stroke="#fff" stroke-width="1.25" stroke-linejoin="round"/>
<path d="M250.0,492.0L249.6,500.0L250.0,508.0L252.0,516.0" fill="none" stroke="#fff" stroke-width="1.25" stroke-linejoin="round"/>
<path d="M252.0,516.0L258.0,517.0L265.0,518.0L266.0,514.0L270.0,512.0L276.0,513.0L278.0,518.0L280.0,523.0" fill="none" stroke="#fff" stroke-width="1.25" stroke-linejoin="round"/>
<path d="M250.0,509.0L251.0,516.0L254.0,522.0L251.0,530.0L249.0,540.0L248.0,550.0L246.4,560.0L245.0,570.0L244.4,578.0L245.0,586.0L243.6,594.0L246.0,600.0" fill="none" stroke="#fff" stroke-width="1.25" stroke-linejoin="round"/>
<path d="M254.0,522.0L257.0,519.6L262.0,520.0L265.0,519.0" fill="none" stroke="#fff" stroke-width="1.25" stroke-linejoin="round"/>
<path d="M265.0,519.0L266.0,514.0L271.0,512.4L274.0,516.0L274.4,519.6L280.0,520.4L281.0,525.0L283.0,529.0L281.0,532.0L275.0,532.4L273.0,529.0L268.0,524.0L265.0,520.0" fill="none" stroke="#fff" stroke-width="1.25" stroke-linejoin="round"/>
<path d="M283.0,529.0L280.0,535.0L276.0,540.0L274.0,546.0L274.4,550.4" fill="none" stroke="#fff" stroke-width="1.25" stroke-linejoin="round"/>
<path d="M276.0,540.0L281.0,543.0L285.0,546.4" fill="none" stroke="#fff" stroke-width="1.25" stroke-linejoin="round"/>
<path d="M395.0,379.4L394.8,385.6L391.2,388.8L386.2,391.9L380.0,396.2L379.4,399.4" fill="none" stroke="#fff" stroke-width="1.25" stroke-linejoin="round"/>
<path d="M362.5,413.8L370.6,413.1L371.2,401.2L379.4,399.4L384.4,403.8L386.2,427.5L373.8,428.1L371.9,425.0" fill="none" stroke="#fff" stroke-width="1.25" stroke-linejoin="round"/>
<path d="M384.4,403.8L406.2,419.4L423.1,408.1L419.4,403.1L418.8,395.0L419.4,388.8L416.2,383.8L415.0,380.6L417.5,375.0" fill="none" stroke="#fff" stroke-width="1.25" stroke-linejoin="round"/>
<path d="M419.4,388.8L423.1,385.6L421.2,382.5" fill="none" stroke="#fff" stroke-width="1.25" stroke-linejoin="round"/>
<path d="M423.1,408.1L430.0,410.0L449.4,417.5L449.8,413.1L451.9,412.5" fill="none" stroke="#fff" stroke-width="1.25" stroke-linejoin="round"/>
<path d="M451.9,387.5L451.9,412.5L475.6,411.9" fill="none" stroke="#fff" stroke-width="1.25" stroke-linejoin="round"/>
<path d="M430.0,410.0L431.2,417.5L430.6,425.0L427.5,432.5L428.8,435.0" fill="none" stroke="#fff" stroke-width="1.25" stroke-linejoin="round"/>
<path d="M449.4,417.5L448.8,426.2L446.2,431.2L445.6,436.2L447.5,439.4" fill="none" stroke="#fff" stroke-width="1.25" stroke-linejoin="round"/>
<path d="M406.2,419.4L407.5,425.0L406.9,428.1L400.0,430.0L397.5,430.6L391.2,432.5L387.5,437.5L386.2,440.0" fill="none" stroke="#fff" stroke-width="1.25" stroke-linejoin="round"/>
<path d="M397.5,430.6L401.2,433.8L405.0,433.8L408.8,432.5L417.5,433.8L426.2,433.8L428.8,435.0" fill="none" stroke="#fff" stroke-width="1.25" stroke-linejoin="round"/>
<path d="M405.0,433.8L404.4,440.0L403.8,449.4" fill="none" stroke="#fff" stroke-width="1.25" stroke-linejoin="round"/>
<path d="M428.8,435.0L430.0,438.1L426.2,443.8L423.1,448.1L420.0,451.2" fill="none" stroke="#fff" stroke-width="1.25" stroke-linejoin="round"/>
<path d="M362.5,428.1L367.5,426.2L372.5,428.1L373.8,432.5L380.0,439.4L381.9,442.5L381.2,451.2" fill="none" stroke="#fff" stroke-width="1.25" stroke-linejoin="round"/>
<path d="M364.4,433.8L371.2,435.0L375.0,437.5L380.0,439.4" fill="none" stroke="#fff" stroke-width="1.25" stroke-linejoin="round"/>
<path d="M371.2,441.9L375.6,446.2" fill="none" stroke="#fff" stroke-width="1.25" stroke-linejoin="round"/>
<path d="M386.2,440.0L392.5,439.4L398.8,439.4L403.8,438.1" fill="none" stroke="#fff" stroke-width="1.25" stroke-linejoin="round"/>
<path d="M392.5,440.0L392.5,452.5" fill="none" stroke="#fff" stroke-width="1.25" stroke-linejoin="round"/>
<path d="M398.1,440.0L398.1,450.0" fill="none" stroke="#fff" stroke-width="1.25" stroke-linejoin="round"/>
<path d="M400.6,440.0L400.6,450.0" fill="none" stroke="#fff" stroke-width="1.25" stroke-linejoin="round"/>
<path d="M428.8,435.0L431.9,441.9L436.2,443.8L442.5,441.2L447.5,439.4L451.2,442.5L455.0,441.2L458.8,442.5L462.5,441.2L467.5,438.1L469.4,440.0L471.2,443.8" fill="none" stroke="#fff" stroke-width="1.25" stroke-linejoin="round"/>
<path d="M478.1,423.8L480.0,427.5L476.9,431.2L473.8,436.2L471.2,443.8L473.1,450.0L480.0,455.0L486.2,456.2L490.6,456.2" fill="none" stroke="#fff" stroke-width="1.25" stroke-linejoin="round"/>
<path d="M478.1,423.8L481.2,428.8L486.2,433.8L489.4,437.5L492.5,443.1L500.6,446.2L496.2,452.5L490.6,456.2" fill="none" stroke="#fff" stroke-width="1.25" stroke-linejoin="round"/>
<path d="M451.2,442.5L455.0,448.8L460.0,455.0L465.0,457.5" fill="none" stroke="#fff" stroke-width="1.25" stroke-linejoin="round"/>
<path d="M431.9,441.9L430.0,450.0L431.2,457.5" fill="none" stroke="#fff" stroke-width="1.25" stroke-linejoin="round"/>
<path d="M430.0,450.0L437.5,447.5L445.0,446.2L450.0,445.0L453.8,448.8" fill="none" stroke="#fff" stroke-width="1.25" stroke-linejoin="round"/>
<path d="M425.6,476.9L429.4,476.9L431.2,475.0L433.8,470.0L436.2,463.8L437.5,457.5L440.0,454.4L447.5,453.8L455.0,453.1L460.0,454.4L465.0,457.5L464.4,461.2L462.5,465.0L461.9,468.8L461.2,472.5L461.9,478.8L463.8,483.8L460.0,486.2L459.4,491.2L461.2,495.0L461.9,498.1" fill="none" stroke="#fff" stroke-width="1.25" stroke-linejoin="round"/>
<path d="M459.4,491.2L455.0,493.1L450.0,491.9L445.6,491.2L445.0,486.2L443.8,482.5L440.0,483.1L436.2,483.8L433.8,480.0L425.6,479.8" fill="none" stroke="#fff" stroke-width="1.25" stroke-linejoin="round"/>
<path d="M431.2,455.0L431.9,458.8L437.5,457.5" fill="none" stroke="#fff" stroke-width="1.25" stroke-linejoin="round"/>
<path d="M420.0,461.9L426.9,461.9L430.0,463.8L429.4,468.8L425.0,472.5L423.8,475.0" fill="none" stroke="#fff" stroke-width="1.25" stroke-linejoin="round"/>
<path d="M445.0,486.2L445.6,492.5L448.1,493.8L445.0,497.5L445.0,505.0L450.0,508.1" fill="none" stroke="#fff" stroke-width="1.25" stroke-linejoin="round"/>
<path d="M424.4,507.5L443.1,509.4L450.0,508.1L455.0,508.8L460.0,505.0L463.8,501.2L467.5,500.0L469.4,497.5L468.8,491.2" fill="none" stroke="#fff" stroke-width="1.25" stroke-linejoin="round"/>
<path d="M445.0,497.5L450.0,495.0L455.0,493.8L460.0,496.2L461.9,498.1" fill="none" stroke="#fff" stroke-width="1.25" stroke-linejoin="round"/>
<path d="M469.4,490.0L471.2,493.8L472.5,500.0L475.0,502.5L473.8,505.0L471.9,501.9" fill="none" stroke="#fff" stroke-width="1.25" stroke-linejoin="round"/>
<path d="M461.9,468.8L465.0,467.5L471.2,468.8L475.0,470.6L481.2,475.0" fill="none" stroke="#fff" stroke-width="1.25" stroke-linejoin="round"/>
<path d="M463.8,483.8L468.1,487.5L472.5,492.5L477.5,492.5L483.8,491.2" fill="none" stroke="#fff" stroke-width="1.25" stroke-linejoin="round"/>
<path d="M471.2,468.8L472.5,462.5L470.6,457.5" fill="none" stroke="#fff" stroke-width="1.25" stroke-linejoin="round"/>
<path d="M485.6,466.9L486.2,457.5L490.0,455.0" fill="none" stroke="#fff" stroke-width="1.25" stroke-linejoin="round"/>
<path d="M461.2,470.0L464.4,470.6L464.4,476.2L461.5,475.6" fill="none" stroke="#fff" stroke-width="1.25" stroke-linejoin="round"/>
<path d="M443.1,509.4L442.5,521.2L441.9,530.0L441.2,535.0L437.5,536.2L433.1,535.0" fill="none" stroke="#fff" stroke-width="1.25" stroke-linejoin="round"/>
<path d="M441.9,530.0L447.5,527.5L452.5,525.0L456.2,521.2L460.0,518.8L463.8,520.0" fill="none" stroke="#fff" stroke-width="1.25" stroke-linejoin="round"/>
<path d="M450.0,508.1L452.5,512.5L456.2,516.2L460.0,518.8" fill="none" stroke="#fff" stroke-width="1.25" stroke-linejoin="round"/>
<path d="M463.8,520.0L467.5,516.2L468.1,510.0L468.1,505.0L463.8,501.2" fill="none" stroke="#fff" stroke-width="1.25" stroke-linejoin="round"/>
<path d="M463.8,520.0L465.6,525.0L466.2,530.0L465.0,531.9" fill="none" stroke="#fff" stroke-width="1.25" stroke-linejoin="round"/>
<path d="M464.4,529.4L466.9,530.0L466.2,531.9L464.4,531.2L464.4,529.4" fill="none" stroke="#fff" stroke-width="1.25" stroke-linejoin="round"/>
<path d="M456.2,536.9L458.8,535.6L460.6,537.5L458.1,539.4L456.2,536.9" fill="none" stroke="#fff" stroke-width="1.25" stroke-linejoin="round"/>
<path d="M382.5,360.0L381.9,365.0L383.1,368.8L382.5,372.5" fill="none" stroke="#fff" stroke-width="1.25" stroke-linejoin="round"/>
<path d="M398.1,356.9L403.1,358.1" fill="none" stroke="#fff" stroke-width="1.25" stroke-linejoin="round"/>
<path d="M407.5,332.8L410.0,335.0L413.1,336.9L413.8,340.6L413.1,344.4L413.8,347.5L413.1,351.2L413.1,354.4" fill="none" stroke="#fff" stroke-width="1.25" stroke-linejoin="round"/>
<path d="M410.0,335.0L411.9,332.5L413.1,331.2" fill="none" stroke="#fff" stroke-width="1.25" stroke-linejoin="round"/>
<path d="M423.8,303.8L425.0,297.5L429.4,286.2L430.0,280.0L435.0,273.8L442.5,268.8L448.1,268.8L448.8,275.0L449.4,279.8" fill="none" stroke="#fff" stroke-width="1.25" stroke-linejoin="round"/>
<path d="M448.1,268.8L452.5,266.2L456.2,266.2" fill="none" stroke="#fff" stroke-width="1.25" stroke-linejoin="round"/>
<path d="M456.2,262.5L460.0,272.5L462.5,280.0L465.0,287.5L465.6,292.5L462.5,297.5L461.2,299.4" fill="none" stroke="#fff" stroke-width="1.25" stroke-linejoin="round"/>
<path d="M476.9,375.0L482.5,373.8L487.5,373.1L491.9,371.2L493.1,366.9L491.2,361.9" fill="none" stroke="#fff" stroke-width="1.25" stroke-linejoin="round"/>
<path d="M487.5,373.1L485.6,377.5L482.5,381.2L476.9,386.2L473.1,390.0" fill="none" stroke="#fff" stroke-width="1.25" stroke-linejoin="round"/>
<path d="M475.6,377.5L478.8,380.6L482.5,381.2" fill="none" stroke="#fff" stroke-width="1.25" stroke-linejoin="round"/>
<path d="M474.8,381.2L474.0,387.5L473.1,392.5" fill="none" stroke="#fff" stroke-width="1.25" stroke-linejoin="round"/>
<path d="M481.9,386.2L491.2,390.0L498.8,394.4" fill="none" stroke="#fff" stroke-width="1.25" stroke-linejoin="round"/>
<path d="M493.1,366.9L496.2,373.8L496.9,378.8L500.0,385.0L501.2,390.6" fill="none" stroke="#fff" stroke-width="1.25" stroke-linejoin="round"/>
<path d="M487.5,356.2L492.5,358.8L497.5,360.0L500.0,363.1" fill="none" stroke="#fff" stroke-width="1.25" stroke-linejoin="round"/>
<path d="M492.5,358.8L493.8,363.8L498.1,365.0" fill="none" stroke="#fff" stroke-width="1.25" stroke-linejoin="round"/>
<path d="M490.6,426.2L500.0,422.5L510.0,420.0L515.0,415.0L517.5,410.0L515.6,408.1" fill="none" stroke="#fff" stroke-width="1.25" stroke-linejoin="round"/>
<path d="M510.0,420.0L511.9,423.1" fill="none" stroke="#fff" stroke-width="1.25" stroke-linejoin="round"/>
<path d="M518.1,350.6L522.5,349.4L527.5,352.5L532.5,355.6L537.5,355.6L540.0,358.8L541.9,362.5" fill="none" stroke="#fff" stroke-width="1.25" stroke-linejoin="round"/>
<path d="M518.1,350.6L517.5,358.8L521.9,358.1L525.0,360.0L530.0,363.1L535.0,366.2L540.0,370.0L542.5,371.2" fill="none" stroke="#fff" stroke-width="1.25" stroke-linejoin="round"/>
<path d="M515.0,360.6L517.5,358.8" fill="none" stroke="#fff" stroke-width="1.25" stroke-linejoin="round"/>
<path d="M542.5,371.2L537.5,373.1L532.5,376.2L529.4,377.5" fill="none" stroke="#fff" stroke-width="1.25" stroke-linejoin="round"/>
<path d="M530.0,392.5L537.5,392.5L542.5,390.0L546.2,386.2L548.8,383.1L550.6,380.0L551.9,376.2L550.0,373.8L546.2,372.5L542.5,371.2" fill="none" stroke="#fff" stroke-width="1.25" stroke-linejoin="round"/>
<path d="M551.9,376.2L556.2,373.8L558.8,373.1" fill="none" stroke="#fff" stroke-width="1.25" stroke-linejoin="round"/>
<path d="M542.5,371.2L543.8,367.5L548.8,366.9L553.8,367.5L557.5,370.0L558.8,373.1" fill="none" stroke="#fff" stroke-width="1.25" stroke-linejoin="round"/>
<path d="M541.9,362.5L547.5,360.0L552.5,357.5L560.0,356.9L566.2,358.8L562.5,361.9L557.5,363.8L553.8,365.0L548.8,366.9" fill="none" stroke="#fff" stroke-width="1.25" stroke-linejoin="round"/>
<path d="M541.9,362.5L543.1,365.0L543.8,367.5" fill="none" stroke="#fff" stroke-width="1.25" stroke-linejoin="round"/>
<path d="M566.2,358.8L568.8,355.0L570.0,351.2L575.0,347.5L576.2,344.4L580.0,341.2" fill="none" stroke="#fff" stroke-width="1.25" stroke-linejoin="round"/>
<path d="M558.8,373.1L562.5,376.2L565.6,377.5L568.8,378.8L566.9,381.2L565.0,383.8L561.2,385.0L558.1,388.1L556.2,391.2L552.5,395.0L548.8,397.5L546.9,400.6L548.8,403.8L546.2,406.2L544.4,406.9" fill="none" stroke="#fff" stroke-width="1.25" stroke-linejoin="round"/>
<path d="M565.6,376.2L568.1,375.6L569.8,378.1L568.8,380.2L566.2,379.8L565.6,376.2" fill="none" stroke="#fff" stroke-width="1.25" stroke-linejoin="round"/>
<path d="M566.9,384.4L568.1,388.8L570.6,392.5L575.0,395.0L580.0,397.5L585.6,399.4L587.5,398.8" fill="none" stroke="#fff" stroke-width="1.25" stroke-linejoin="round"/>
<path d="M570.6,392.5L573.8,396.2L578.8,398.8L585.6,401.2" fill="none" stroke="#fff" stroke-width="1.25" stroke-linejoin="round"/>
<path d="M587.5,398.8L591.2,397.5L595.0,398.1L593.8,400.0L588.8,400.6L587.5,398.8" fill="none" stroke="#fff" stroke-width="1.25" stroke-linejoin="round"/>
<path d="M587.5,401.2L586.9,406.2L588.8,411.2" fill="none" stroke="#fff" stroke-width="1.25" stroke-linejoin="round"/>
<path d="M587.5,401.2L592.5,400.6L596.2,402.5L595.0,406.2L596.2,410.0" fill="none" stroke="#fff" stroke-width="1.25" stroke-linejoin="round"/>
<path d="M595.0,398.1L600.0,395.0L604.4,394.4L606.2,397.5L603.8,401.2L601.2,405.0L599.4,410.0L598.1,413.8" fill="none" stroke="#fff" stroke-width="1.25" stroke-linejoin="round"/>
<path d="M606.2,397.5L607.5,402.5L606.2,406.2L610.0,408.1" fill="none" stroke="#fff" stroke-width="1.25" stroke-linejoin="round"/>
<path d="M511.6,348.0L518.0,350.0L523.0,349.6L528.0,352.0L534.0,355.0" fill="none" stroke="#fff" stroke-width="1.25" stroke-linejoin="round"/>
<path d="M583.0,338.4L587.0,337.0L590.0,344.0L593.0,350.0L600.0,355.0L608.0,358.0L616.0,359.0L624.0,360.0L632.0,357.0L638.0,353.0L640.0,349.0L646.0,347.0L654.0,345.0L650.0,342.0L645.0,341.0L647.0,337.0" fill="none" stroke="#fff" stroke-width="1.25" stroke-linejoin="round"/>
<path d="M678.0,355.0L673.0,359.0L668.0,363.0L665.0,364.0" fill="none" stroke="#fff" stroke-width="1.25" stroke-linejoin="round"/>
<path d="M669.0,370.0L673.6,369.0" fill="none" stroke="#fff" stroke-width="1.25" stroke-linejoin="round"/>
<path d="M606.9,399.4L608.1,403.8L610.0,407.5L611.9,410.6L610.6,413.1L608.1,416.2L606.9,419.4L607.8,423.5" fill="none" stroke="#fff" stroke-width="0.9" stroke-linejoin="round"/>
<path d="M611.9,410.6L615.6,411.9L618.8,410.6L622.5,410.0L626.9,411.9" fill="none" stroke="#fff" stroke-width="0.9" stroke-linejoin="round"/>
<path d="M610.6,413.1L613.1,414.4L615.6,413.8L617.5,416.2L620.0,419.4L623.1,422.5L625.6,426.2L626.2,430.0" fill="none" stroke="#fff" stroke-width="0.9" stroke-linejoin="round"/>
<path d="M618.8,410.6L620.6,414.4L623.1,417.5L625.6,418.8" fill="none" stroke="#fff" stroke-width="0.9" stroke-linejoin="round"/>
<path d="M607.8,423.5L609.4,420.0L612.5,418.1L615.6,419.4L617.5,422.5L620.0,426.2L621.9,429.4L621.2,431.9L618.1,433.1L617.5,433.8" fill="none" stroke="#fff" stroke-width="0.9" stroke-linejoin="round"/>
<path d="M621.2,431.9L625.0,431.9L628.1,431.2L629.4,433.1" fill="none" stroke="#fff" stroke-width="0.9" stroke-linejoin="round"/>
<path d="M618.1,436.9L619.4,433.8L621.2,431.9" fill="none" stroke="#fff" stroke-width="0.9" stroke-linejoin="round"/>
<path d="M636.2,461.9L640.0,461.2L643.8,459.4L646.2,456.2" fill="none" stroke="#fff" stroke-width="0.9" stroke-linejoin="round"/>
<path d="M699.4,471.6L699.4,486.0" fill="none" stroke="#fff" stroke-width="1.2" stroke-linejoin="round"/>
<path d="M499.0,338.0L502.0,334.0L508.0,332.0L516.0,334.4L524.0,333.0L529.0,329.0L530.0,324.0L536.0,322.0L546.0,319.0L552.0,322.0L560.0,324.0L565.0,323.0L568.0,328.0L572.0,332.0L578.0,336.0L583.0,338.4L587.0,337.0L593.0,334.4L600.0,333.0L608.0,334.0L610.0,330.0L615.0,331.0L620.0,334.0L628.0,336.0L635.0,337.6L642.0,336.0L647.0,337.0L651.0,336.0L654.0,332.0L656.0,327.0L660.0,325.0L666.0,326.0L669.0,330.0L672.0,335.0L676.0,339.0L681.0,342.0L686.0,341.6L684.0,347.0L680.0,351.0L678.0,355.0" fill="none" stroke="#fff" stroke-width="1.2" stroke-linejoin="round"/>
<path d="M515.0,371.2L518.1,370.6L521.9,371.2L525.0,373.1L527.5,375.6L529.4,377.5L528.8,381.2L528.1,385.0L529.4,388.8L530.0,392.5L531.2,395.0L531.9,398.1L532.5,401.2L531.2,403.1" fill="none" stroke="#fff" stroke-width="1.2" stroke-linejoin="round"/>
<path d="M782.4,258.0L782.4,284.0" fill="none" stroke="#fff" stroke-width="0.8" stroke-linejoin="round"/>
<path d="M148.1,384.8L149.4,385.2L153.8,386.2L158.8,388.0L163.8,388.0L168.1,387.5L171.2,388.4L173.8,390.9L176.2,393.4L179.4,394.0L182.5,395.2L185.0,398.4L187.5,401.5L189.0,402.2" fill="none" stroke="#fff" stroke-width="1.1" stroke-linejoin="round"/>
<path d="M415.1,341.6L418.9,342.0L422.7,342.5L425.5,342.5" fill="none" stroke="#fff" stroke-width="1.25" stroke-linejoin="round"/>
<path d="M429.3,323.6L430.2,328.3L428.8,332.1L424.6,335.4L425.0,337.8L426.4,339.7L425.5,342.5" fill="none" stroke="#fff" stroke-width="1.25" stroke-linejoin="round"/>
<path d="M428.8,332.1L433.1,334.0L437.8,336.4L442.5,337.3L447.2,336.4" fill="none" stroke="#fff" stroke-width="1.25" stroke-linejoin="round"/>
<path d="M448.6,323.6L449.6,328.3L449.1,333.1L447.2,336.4L446.3,339.2" fill="none" stroke="#fff" stroke-width="1.25" stroke-linejoin="round"/>
<path d="M424.6,335.4L428.3,334.0L433.1,334.5" fill="none" stroke="#fff" stroke-width="1.25" stroke-linejoin="round"/>
<path d="M437.8,336.4L435.9,338.2L431.2,339.2L426.9,338.7L425.0,337.3" fill="none" stroke="#fff" stroke-width="1.25" stroke-linejoin="round"/>
<path d="M435.9,338.2L439.7,337.8L445.3,337.8L446.3,339.2L442.5,340.6L437.8,340.8L435.4,340.4" fill="none" stroke="#fff" stroke-width="1.25" stroke-linejoin="round"/>
<path d="M425.5,342.5L427.4,340.6L431.2,339.7L435.4,340.4L434.5,343.0L431.2,344.9L427.4,344.4L425.0,343.9L418.9,344.4" fill="none" stroke="#fff" stroke-width="1.25" stroke-linejoin="round"/>
<path d="M446.3,339.7L447.2,341.6L444.4,344.9L439.7,346.7L435.4,345.3L434.2,343.0" fill="none" stroke="#fff" stroke-width="1.25" stroke-linejoin="round"/>
<path d="M413.2,343.9L416.1,343.4L418.9,344.4L418.4,346.7L415.1,347.2L413.2,345.8" fill="none" stroke="#fff" stroke-width="1.25" stroke-linejoin="round"/>
<path d="M431.2,345.1L434.0,347.2L432.6,349.1L434.9,351.5L437.8,352.9" fill="none" stroke="#fff" stroke-width="1.25" stroke-linejoin="round"/>
<path d="M435.4,345.5L437.8,348.2L440.6,349.1L441.6,352.9L443.0,356.7L441.6,358.6" fill="none" stroke="#fff" stroke-width="1.25" stroke-linejoin="round"/>
<path d="M439.7,346.9L441.6,349.1L444.4,351.0L445.3,354.3L447.2,356.7L447.7,358.1" fill="none" stroke="#fff" stroke-width="1.25" stroke-linejoin="round"/>
<path d="M437.8,352.9L439.7,355.7L441.6,358.6L443.4,360.4L442.5,362.8" fill="none" stroke="#fff" stroke-width="1.25" stroke-linejoin="round"/>
<path d="M447.2,341.6L451.9,340.6L456.7,341.6L458.6,344.4L460.4,347.2L460.0,349.1L457.6,352.9L452.9,353.8L448.2,353.1L445.3,350.1L443.9,347.2L444.4,344.9" fill="none" stroke="#fff" stroke-width="1.25" stroke-linejoin="round"/>
<path d="M456.7,341.6L459.5,342.5L461.9,346.3L460.4,348.2" fill="none" stroke="#fff" stroke-width="1.25" stroke-linejoin="round"/>
<path d="M448.2,354.3L447.7,358.1L450.1,360.4L454.8,359.5L457.1,356.7L457.6,353.1" fill="none" stroke="#fff" stroke-width="1.25" stroke-linejoin="round"/>
<path d="M443.4,360.4L447.2,360.0L450.1,360.4" fill="none" stroke="#fff" stroke-width="1.25" stroke-linejoin="round"/>
<path d="M449.1,330.2L453.8,329.8L458.6,330.7L464.2,330.2L468.0,328.8L471.3,328.3L473.6,332.1L475.5,334.9L479.3,335.9L483.6,336.8L484.0,340.6L481.2,342.5L479.3,344.4" fill="none" stroke="#fff" stroke-width="1.25" stroke-linejoin="round"/>
<path d="M449.6,323.6L452.9,320.3L456.7,317.5L461.4,316.5L465.2,317.5L466.1,321.7L468.5,325.0L468.0,328.5" fill="none" stroke="#fff" stroke-width="1.25" stroke-linejoin="round"/>
<path d="M445.3,316.1L450.1,315.6L454.8,316.5L457.1,317.5" fill="none" stroke="#fff" stroke-width="1.25" stroke-linejoin="round"/>
<path d="M449.6,310.4L453.8,310.9L458.1,311.3" fill="none" stroke="#fff" stroke-width="1.25" stroke-linejoin="round"/>
<path d="M458.6,303.8L458.1,307.6L458.1,311.3L457.1,315.1L457.1,317.5" fill="none" stroke="#fff" stroke-width="1.25" stroke-linejoin="round"/>
<path d="M444.4,321.5L447.2,321.9L449.1,322.7" fill="none" stroke="#fff" stroke-width="1.25" stroke-linejoin="round"/>
</svg>
<div class="t serif" style="left:968.56px;top:25.11px;font-size:56.70px;color:#1c3664;transform:scaleX(1.0502)">C</div>
<div class="t serif" style="left:1050.61px;top:32.62px;font-size:47.50px;color:#1c3664;transform:scaleX(1.1509)">H</div>
<div class="t serif" style="left:1094.38px;top:32.62px;font-size:47.50px;color:#1c3664;transform:scaleX(0.9616)">E</div>
<div class="t serif" style="left:1124.49px;top:32.62px;font-size:47.50px;color:#1c3664;transform:scaleX(1.0212)">R</div>
<div class="t serif" style="left:1159.55px;top:32.62px;font-size:47.50px;color:#1c3664;transform:scaleX(0.9102)">E</div>
<div class="t serif" style="left:1185.74px;top:32.62px;font-size:47.50px;color:#1c3664;transform:scaleX(1.1312)">N</div>
<div class="t serif" style="left:1226.88px;top:32.62px;font-size:47.50px;color:#1c3664;transform:scaleX(1.0819)">T</div>
<div class="t sans" style="left:969.61px;top:78.53px;font-size:18.75px;color:#1c3664;transform:scaleX(1.2277)">M</div>
<div class="t sans" style="left:998.72px;top:78.53px;font-size:18.75px;color:#1c3664;transform:scaleX(0.9050)">A</div>
<div class="t sans" style="left:1020.70px;top:78.53px;font-size:18.75px;color:#1c3664;transform:scaleX(0.7811)">R</div>
<div class="t sans" style="left:1041.84px;top:78.53px;font-size:18.75px;color:#1c3664;transform:scaleX(0.8177)">K</div>
<div class="t sans" style="left:1061.97px;top:78.53px;font-size:18.75px;color:#1c3664;transform:scaleX(0.7380)">E</div>
<div class="t sans" style="left:1081.09px;top:78.53px;font-size:18.75px;color:#1c3664;transform:scaleX(0.9894)">T</div>
<div class="t sans" style="left:1111.04px;top:78.53px;font-size:18.75px;color:#1c3664;transform:scaleX(1.0213)">I</div>
<div class="t sans" style="left:1126.53px;top:78.53px;font-size:18.75px;color:#1c3664;transform:scaleX(0.9541)">N</div>
<div class="t sans" style="left:1148.90px;top:78.53px;font-size:18.75px;color:#1c3664;transform:scaleX(0.8333)">S</div>
<div class="t sans" style="left:1167.94px;top:78.53px;font-size:18.75px;color:#1c3664;transform:scaleX(1.0213)">I</div>
<div class="t sans" style="left:1183.88px;top:78.53px;font-size:18.75px;color:#1c3664;transform:scaleX(0.8739)">G</div>
<div class="t sans" style="left:1206.55px;top:78.53px;font-size:18.75px;color:#1c3664;transform:scaleX(0.9445)">H</div>
<div class="t sans" style="left:1226.45px;top:78.53px;font-size:18.75px;color:#1c3664;transform:scaleX(1.1025)">T</div>
<div class="t sans" style="left:1248.60px;top:78.53px;font-size:18.75px;color:#1c3664;transform:scaleX(0.8333)">S</div>
<svg width="1280" height="720" viewBox="0 0 1280 720" style="pointer-events:none">
<rect x="1023.65" y="49.30" width="5.20" height="5.20" rx="1.20" fill="#8cc63f" transform="rotate(45.0 1026.25 51.90)"/>
<rect x="1032.00" y="49.30" width="5.20" height="5.20" rx="1.20" fill="#8cc63f" transform="rotate(45.0 1034.60 51.90)"/>
<rect x="1023.65" y="57.65" width="5.20" height="5.20" rx="1.20" fill="#8cc63f" transform="rotate(45.0 1026.25 60.25)"/>
<rect x="1032.00" y="57.65" width="5.20" height="5.20" rx="1.20" fill="#8cc63f" transform="rotate(45.0 1034.60 60.25)"/>
<rect x="1024.80" y="42.30" width="4.20" height="4.20" rx="1.00" fill="#3f8fb3" transform="rotate(45.0 1026.90 44.40)"/>
<rect x="1032.30" y="42.30" width="4.20" height="4.20" rx="1.00" fill="#3f8fb3" transform="rotate(45.0 1034.40 44.40)"/>
<rect x="1016.90" y="49.80" width="4.20" height="4.20" rx="1.00" fill="#3f8fb3" transform="rotate(45.0 1019.00 51.90)"/>
<rect x="1016.90" y="57.90" width="4.20" height="4.20" rx="1.00" fill="#3f8fb3" transform="rotate(45.0 1019.00 60.00)"/>
<rect x="1040.00" y="49.80" width="4.20" height="4.20" rx="1.00" fill="#3f8fb3" transform="rotate(45.0 1042.10 51.90)"/>
<rect x="1040.00" y="57.90" width="4.20" height="4.20" rx="1.00" fill="#3f8fb3" transform="rotate(45.0 1042.10 60.00)"/>
<rect x="1024.80" y="65.40" width="4.20" height="4.20" rx="1.00" fill="#3f8fb3" transform="rotate(45.0 1026.90 67.50)"/>
<rect x="1032.30" y="65.40" width="4.20" height="4.20" rx="1.00" fill="#3f8fb3" transform="rotate(45.0 1034.40 67.50)"/>
<rect x="1017.30" y="44.30" width="5.40" height="2.60" rx="1.00" fill="#d4145a" transform="rotate(-45.0 1020.00 45.60)"/>
<rect x="1038.30" y="44.30" width="5.40" height="2.60" rx="1.00" fill="#d4145a" transform="rotate(45.5 1041.00 45.60)"/>
<rect x="1017.30" y="64.95" width="5.40" height="2.60" rx="1.00" fill="#d4145a" transform="rotate(225.4 1020.00 66.25)"/>
<rect x="1038.30" y="64.95" width="5.40" height="2.60" rx="1.00" fill="#d4145a" transform="rotate(134.0 1041.00 66.25)"/>
<rect x="1024.80" y="38.60" width="4.60" height="2.00" rx="0.90" fill="#7a3b8f" transform="rotate(-11.4 1027.10 39.60)"/>
<rect x="1031.45" y="38.60" width="4.60" height="2.00" rx="0.90" fill="#7a3b8f" transform="rotate(11.5 1033.75 39.60)"/>
<rect x="1024.80" y="71.25" width="4.60" height="2.00" rx="0.90" fill="#7a3b8f" transform="rotate(191.5 1027.10 72.25)"/>
<rect x="1031.45" y="71.25" width="4.60" height="2.00" rx="0.90" fill="#7a3b8f" transform="rotate(168.4 1033.75 72.25)"/>
<rect x="1011.70" y="51.75" width="4.60" height="2.00" rx="0.90" fill="#7a3b8f" transform="rotate(-78.8 1014.00 52.75)"/>
<rect x="1011.70" y="58.00" width="4.60" height="2.00" rx="0.90" fill="#7a3b8f" transform="rotate(259.6 1014.00 59.00)"/>
<rect x="1044.80" y="51.75" width="4.60" height="2.00" rx="0.90" fill="#7a3b8f" transform="rotate(79.0 1047.10 52.75)"/>
<rect x="1044.80" y="58.00" width="4.60" height="2.00" rx="0.90" fill="#7a3b8f" transform="rotate(100.2 1047.10 59.00)"/>
</svg>
<div class="lg" style="left:296px;background:#1b3563"></div>
<div class="lg" style="left:497px;background:#74c792"></div>
<div id="hr"></div>
<div class="t sans" style="left:38.05px;top:36.38px;font-size:39.60px;color:#000;transform:scaleX(0.9237)"><b>Regional Insights, 2025</b></div>
<div class="t sans" style="left:321.85px;top:129.57px;font-size:29.80px;color:#000;transform:scaleX(0.9767)"><span>Total Market Size:</span></div>
<div class="t sans" style="left:558.66px;top:128.10px;font-size:31.90px;color:#000;transform:scaleX(1.0130)"><b>USD 6.58 Bn</b></div>
<div class="t sans" style="left:321.81px;top:641.83px;font-size:13.90px;color:#000;transform:scaleX(1.0109)"><b>Dominant Region</b></div>
<div class="t sans" style="left:522.79px;top:641.83px;font-size:13.90px;color:#000;transform:scaleX(0.9774)"><b>Fastest Growing Region</b></div>
<div class="t sans" style="left:38.99px;top:695.04px;font-size:13.30px;color:#000;transform:scaleX(1.0574)"><b>Source:</b><span> Primary Research, Desk Research, Paid subscriptions, CMI Data Repository</span></div>
<div class="t sans" style="left:996.21px;top:268.74px;font-size:52.40px;color:#fff;transform:scaleX(0.9966)"><b>41.7%</b></div>
<div class="t sans" style="left:995.56px;top:327.63px;font-size:19.10px;color:#fff;transform:scaleX(1.1234)"><b>North America</b><span> - Estimated</span></div>
<div class="t sans" style="left:995.22px;top:356.63px;font-size:19.10px;color:#fff;transform:scaleX(1.1334)"><span>Market Revenue Share,</span></div>
<div class="t sans" style="left:995.89px;top:384.93px;font-size:19.10px;color:#fff;transform:scaleX(1.1589)"><span>2025</span></div>
<div class="t sans" style="left:995.71px;top:469.94px;font-size:31.50px;color:#fff;transform:scaleX(1.0414)"><span>Data</span></div>
<div class="t sans" style="left:996.71px;top:515.04px;font-size:31.50px;color:#fff;transform:scaleX(1.0561)"><span>Converters</span></div>
<div class="t sans" style="left:995.47px;top:560.14px;font-size:31.50px;color:#fff;transform:scaleX(1.1342)"><span>Market</span></div>
<div class="bd" style="left:0;top:0;width:1280px;height:2px"></div>
<div class="bd" style="left:0;top:0;width:2px;height:720px"></div>
<div class="bd" style="left:0;top:718px;width:949px;height:2px"></div>
<div class="bd" style="left:949px;top:718.7px;width:331px;height:1.3px;background:#8f9bb0"></div>
<div class="bd" style="left:1279px;top:0;width:1px;height:132px;opacity:.85"></div>
<div class="bd" style="left:1279px;top:132px;width:1px;height:588px;background:#8f9bb0"></div>
</body></html>
